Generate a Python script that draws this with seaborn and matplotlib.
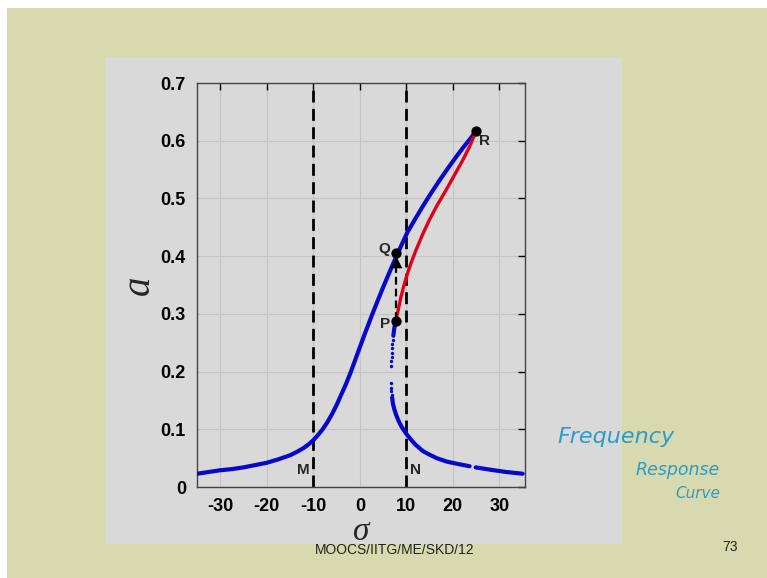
import matplotlib
matplotlib.use('Agg')
import matplotlib.pyplot as plt
from matplotlib.patches import Rectangle
import pandas as pd
import seaborn as sns

# upper stable branch (blue)
upper_sigma = [-35, -32.5, -30, -27.5, -25, -22.5, -20, -17.5, -15, -13.5, -12, -11, -10,
               -9, -8, -7, -6, -5, -4, -3, -2, -1, 0, 1, 2, 3, 4, 5, 6, 7, 8, 9,
               10.2, 11.5, 13.5, 15.3, 17.1, 19, 20.7, 22, 23.5, 25]
upper_a     = [0.023, 0.026, 0.029, 0.031, 0.034, 0.038, 0.042, 0.048, 0.055, 0.061, 0.068, 0.074, 0.081,
               0.090, 0.100, 0.112, 0.126, 0.142, 0.160, 0.178, 0.198, 0.220, 0.242, 0.264, 0.285, 0.306,
               0.326, 0.346, 0.365, 0.384, 0.402, 0.420, 0.441, 0.459, 0.486, 0.509, 0.531, 0.553, 0.572,
               0.586, 0.601, 0.617]

# unstable branch (red) P -> R
red_sigma = [7.7, 8.2, 8.8, 9.5, 10.2, 11.0, 12.0, 13.4, 14.9, 16.6, 18.5, 20.3, 22.1, 23.6, 25]
red_a     = [0.287, 0.305, 0.328, 0.350, 0.369, 0.388, 0.409, 0.436, 0.462, 0.488, 0.514, 0.540, 0.566, 0.590, 0.617]

# lower stable branch (blue), solid parts
lowtop_sigma = [7.7, 7.4, 7.2]
lowtop_a     = [0.287, 0.275, 0.262]
low1_sigma = [6.95, 7.1, 7.4, 7.8, 8.3, 9.0, 10.0, 11.0, 12.0, 13.6, 15.0, 16.5, 18.7, 21.0, 23.6]
low1_a     = [0.155, 0.145, 0.135, 0.125, 0.115, 0.104, 0.092, 0.082, 0.073, 0.062, 0.056, 0.050, 0.044, 0.040, 0.036]
low2_sigma = [24.9, 28.0, 31.5, 35.0]
low2_a     = [0.034, 0.030, 0.026, 0.023]

# sparse dots near the vertical tangent
dot_sigma = [7.1, 7.0, 6.95, 6.9, 6.85, 6.8, 6.75, 6.7, 6.75, 6.8, 6.88]
dot_a     = [0.255, 0.247, 0.240, 0.233, 0.226, 0.218, 0.210, 0.180, 0.172, 0.166, 0.160]

# labelled points
pt_names = ['P', 'Q', 'R']
pt_sigma = [7.7, 7.8, 25.0]
pt_a     = [0.287, 0.405, 0.617]

xticks = [-30, -20, -10, 0, 10, 20, 30]
yticks = [0, 0.1, 0.2, 0.3, 0.4, 0.5, 0.6, 0.7]
ytick_labels = ['0', '0.1', '0.2', '0.3', '0.4', '0.5', '0.6', '0.7']

olive = '#d8d9ae'
panel = '#d9d9d9'
blue = '#0808cc'
red = '#e0001a'

sns.set_style('whitegrid')
plt.rcParams['font.family'] = ['Liberation Sans', 'DejaVu Sans']
plt.rcParams['axes.unicode_minus'] = False

fig = plt.figure(figsize=(7.67, 5.78), dpi=100)
fig.patch.set_facecolor('white')
fig.patches.append(Rectangle((7/767, 0), 1, 1 - 8/578, transform=fig.transFigure,
                             facecolor=olive, edgecolor='none', zorder=-3))
fig.patches.append(Rectangle((105/767, 1 - 544/578), 517/767, 486/578, transform=fig.transFigure,
                             facecolor=panel, edgecolor='none', zorder=-1))
# footer, its top half hidden by the grey panel
fig.text(395/767, 1 - 550/578, 'MOOCS/IITG/ME/SKD/12', ha='center', va='center',
         fontsize=10, color='#222222', zorder=-2)
fig.text(730/767, 1 - 547/578, '73', ha='center', va='center', fontsize=10, color='#222222')

ax = fig.add_axes([197/767, 1 - 487/578, 328/767, 404/578])
ax.set_facecolor(panel)

df_up = pd.DataFrame({'sigma': upper_sigma, 'a': upper_a})
df_red = pd.DataFrame({'sigma': red_sigma, 'a': red_a})
for s, a in [(lowtop_sigma, lowtop_a), (low1_sigma, low1_a), (low2_sigma, low2_a)]:
    sns.lineplot(x=s, y=a, sort=False, estimator=None, color=blue, lw=3.0, ax=ax, zorder=3)
sns.lineplot(data=df_up, x='sigma', y='a', sort=False, estimator=None, color=blue, lw=3.0, ax=ax, zorder=3)
sns.lineplot(data=df_red, x='sigma', y='a', sort=False, estimator=None, color=red, lw=2.4, ax=ax, zorder=4)
ax.scatter(dot_sigma, dot_a, s=6, color=blue, zorder=3, linewidths=0)

# M and N dashed lines
for xv in [-10, 10]:
    ax.axvline(xv, color='black', lw=2.0, dashes=(4.3, 2.3), zorder=2)
ax.text(-12.2, 0.03, 'M', ha='center', va='center', fontsize=11, fontweight='bold')
ax.text(12.0, 0.03, 'N', ha='center', va='center', fontsize=11, fontweight='bold')

# jump P -> Q
ax.plot([7.7, 7.7], [0.29, 0.385], color='black', lw=1.6, dashes=(3.5, 1.8), zorder=5)
ax.scatter([7.7], [0.389], marker='^', s=70, color='black', zorder=6, linewidths=0)

ax.scatter(pt_sigma, pt_a, s=55, color='black', zorder=7, linewidths=0)
offs = {'P': (-2.2, -0.005), 'Q': (-2.6, 0.008), 'R': (1.8, -0.018)}
for n, s, a in zip(pt_names, pt_sigma, pt_a):
    dx, dy = offs[n]
    ax.text(s + dx, a + dy, n, ha='center', va='center', fontsize=11, fontweight='bold')

ax.set_xlim(-35, 35.5)
ax.set_ylim(0, 0.7)
ax.set_xticks(xticks)
ax.set_yticks(yticks)
ax.set_yticklabels(ytick_labels)
ax.grid(True, color='#c4c4c4', lw=0.8)
ax.tick_params(direction='in', length=5, width=1, top=True, right=True,
               labelsize=13, pad=8, colors='black')
for lab in ax.get_xticklabels() + ax.get_yticklabels():
    lab.set_fontweight('bold')
for sp in ax.spines.values():
    sp.set_color('#444444')
    sp.set_linewidth(1.0)

ax.set_xlabel('σ', fontsize=24, fontstyle='italic', fontfamily='Liberation Serif', labelpad=1)
ax.set_ylabel('a', fontsize=28, fontstyle='italic', fontfamily='Liberation Serif', labelpad=2)

# handwritten note
hw = '#2b9cc8'
fig.text(557/767, 1 - 437/578, 'Frequency', fontsize=16, color=hw, va='center', ha='left',
         fontstyle='italic', family='DejaVu Sans')
fig.text(636/767, 1 - 470/578, 'Response', fontsize=12.5, color=hw, va='center', ha='left',
         fontstyle='italic', family='DejaVu Sans')
fig.text(675/767, 1 - 494/578, 'Curve', fontsize=11, color=hw, va='center', ha='left',
         fontstyle='italic', family='DejaVu Sans')

fig.savefig('out.png', dpi=100, facecolor=fig.get_facecolor())
